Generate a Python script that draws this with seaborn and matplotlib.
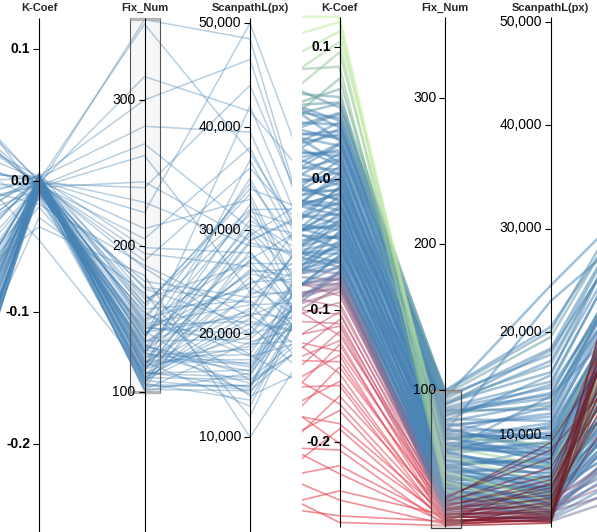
import numpy as np
import pandas as pd
import matplotlib
matplotlib.use("Agg")
import matplotlib.pyplot as plt
import seaborn as sns
from matplotlib.colors import LinearSegmentedColormap
from matplotlib.patches import Rectangle

sns.set_theme(style="white")
plt.rcParams['font.family'] = ['Liberation Sans', 'DejaVu Sans']

# ---------------- data: left view (brush Fix_Num 100-356) ----------------
L_prev = [5, 8, 12, 3, 18, 22, 9, 28, 15, 2,
          31, 6, 20, 11, 25, 4, 34, 14, 7, 26,
          17, 1, 30, 10, 38, 13, 45, 52, 58, 62,
          67, 71, 76, 80, 84, 88, 93, 56, 65, 74,
          48, 40, 82, 60, 35, 70, 24, 50, 86, 16,
          44, 78, 29, 21, 8, 33, 54, 68, 90, 41,
          3, 19, 57, 73, 27, 12, 47, 63, 36, 85,
          6, 14, 23, 9, 2, 17, 27, 11, 4, 19,
          32, 7, 13, 1, 24, 15, 10, 36, 5, 21,
          61, 77, 69, 53, 43]
L_kcoef = [0.002, -0.004, 0.000, -0.006, 0.004, -0.002, -0.008, 0.001, -0.003, 0.003,
           -0.001, -0.010, 0.005, -0.005, 0.000, -0.007, 0.002, -0.012, 0.001, -0.004,
           0.006, -0.002, -0.009, 0.003, -0.001, 0.000, -0.003, 0.002, -0.006, 0.004,
           -0.002, 0.001, -0.008, 0.003, -0.004, 0.000, -0.011, 0.005, -0.001, -0.015,
           0.002, -0.020, -0.003, 0.001, -0.005, 0.003, -0.002, 0.000, -0.004, -0.028,
           -0.035, -0.045, -0.007, 0.001, -0.003, 0.004, -0.006, 0.002, -0.001, -0.013,
           0.000, -0.005, 0.002, -0.002, 0.001, -0.009, 0.003, -0.004, 0.000, -0.006,
           -0.003, 0.001, -0.006, 0.002, -0.001, -0.004, 0.000, -0.008, 0.003, -0.002,
           -0.005, 0.001, -0.010, 0.000, -0.003, 0.002, -0.006, -0.001, 0.004, -0.007,
           -0.002, 0.001, -0.018, 0.000, -0.004]
L_fixnum = [112, 125, 140, 105, 118, 150, 132, 108, 160, 102,
            128, 145, 115, 172, 122, 137, 110, 155, 119, 103,
            166, 130, 142, 107, 185, 126, 113, 148, 135, 117,
            195, 104, 158, 124, 139, 110, 176, 121, 152, 131,
            109, 144, 205, 230, 262, 300, 316, 352, 355, 168,
            180, 114, 127, 101, 136, 116, 147, 106, 164, 133,
            212, 244, 282, 190, 120, 154, 111, 141, 223, 129,
            121, 134, 108, 146, 115, 127, 102, 139, 157, 113,
            123, 171, 106, 149, 118, 199, 135, 110, 128, 143,
            240, 161, 187, 117, 270]
L_scanpath = [22000, 18500, 27000, 15000, 31000, 24500, 16000, 20500, 33500, 14500,
              26000, 19000, 29000, 23000, 17500, 35000, 21500, 15500, 25000, 28000,
              18000, 30500, 14000, 24000, 20000, 32500, 16500, 27500, 19500, 22500,
              26500, 15000, 34000, 18000, 29500, 21000, 23500, 13000, 31500, 17000,
              25500, 20000, 38000, 28500, 24000, 46500, 41500, 37500, 48500, 12000,
              10000, 14800, 15200, 16200, 42000, 19800, 22800, 30000, 26800, 14200,
              33000, 29000, 39500, 36000, 23700, 17800, 27200, 21800, 50000, 16800,
              17200, 25800, 14600, 21200, 28800, 16400, 19200, 31800, 23200, 15800,
              26200, 20800, 13600, 34500, 18800, 27800, 22200, 15600, 29800, 24800,
              44000, 32000, 21700, 36800, 30200]
L_next = [40, 55, 30, 62, 48, 35, 70, 58, 25, 45,
          52, 38, 66, 20, 60, 33, 72, 42, 50, 28,
          64, 56, 36, 75, 44, 18, 61, 39, 54, 68,
          31, 47, 59, 23, 71, 37, 49, 64, 42, 57,
          26, 63, 35, 53, 46, 30, 58, 41, 27, 66,
          50, 73, 43, 55, 34, 62, 45, 38, 52, 60,
          24, 67, 33, 48, 57, 40, 65, 29, 44, 53,
          59, 46, 68, 37, 51, 74, 43, 56, 32, 65,
          48, 22, 61, 40, 54, 36, 70, 47, 28, 58,
          39, 63, 51, 34, 45]

# ---------------- data: right view (brush Fix_Num 0-100) ----------------
G_kcoef = [0.123, 0.119, 0.112, 0.104, 0.096, 0.085, 0.076, 0.068]
G_fixnum = [44, 37, 55, 31, 61, 41, 68, 35]
G_scanpath = [3600, 2900, 5400, 2300, 7000, 4300, 9100, 3100]
G_prev = [100, 93, 86, 81, 76, 89, 71, 79]
G_next = [58, 52, 47, 63, 49, 44, 57, 41]

B_kcoef = [0.062, 0.057, 0.054, 0.049, 0.046, 0.043, 0.039, 0.036, 0.034, 0.030,
           0.027, 0.025, 0.022, 0.019, 0.017, 0.015, 0.012, 0.009, 0.007, 0.005,
           0.003, 0.001, -0.001, -0.003, -0.005, -0.007, -0.009, -0.011, -0.013, -0.016,
           -0.018, -0.020, -0.021, -0.024, -0.026, -0.027, -0.029, -0.032, -0.034, -0.035,
           -0.037, -0.039, -0.041, -0.044, -0.045, -0.047, -0.049, -0.051, -0.053, -0.055,
           -0.057, -0.059, -0.061, -0.063, -0.064, -0.066, -0.068, -0.070, -0.072, -0.073,
           -0.075, -0.077, -0.079, -0.080, -0.082, -0.084, -0.086, 0.041, -0.008, -0.043,
           0.058, 0.050, 0.044, 0.038, 0.032, 0.026, 0.020, 0.014, 0.010, 0.004,
           -0.002, -0.006, -0.012, -0.017, -0.023, -0.028, -0.031, -0.036, -0.040, -0.046,
           -0.050, -0.054, -0.058, -0.062, -0.067, -0.071, -0.076, -0.081, 0.029, -0.019]
B_fixnum = [97, 92, 99, 88, 94, 83, 90, 86, 79, 85,
            76, 82, 72, 78, 69, 75, 66, 73, 63, 70,
            60, 68, 57, 64, 61, 55, 66, 52, 59, 49,
            56, 47, 62, 44, 51, 46, 42, 54, 39, 48,
            37, 45, 41, 35, 43, 33, 38, 31, 40, 29,
            34, 27, 36, 25, 30, 28, 23, 32, 21, 26,
            24, 19, 27, 22, 18, 25, 20, 95, 71, 58,
            84, 96, 77, 91, 68, 87, 58, 80, 49, 74,
            86, 45, 70, 38, 63, 57, 33, 67, 52, 28,
            47, 60, 24, 41, 17, 36, 15, 30, 100, 90]
B_scanpath = [19500, 16800, 20100, 15200, 18400, 14100, 17200, 12500, 15800, 13600,
              11800, 14900, 10600, 13200, 9800, 12100, 11200, 8700, 10300, 12800,
              9200, 7900, 11000, 8400, 9900, 7200, 10800, 6800, 8900, 7600,
              9400, 6300, 8100, 5900, 7400, 8800, 5600, 6900, 5200, 7800,
              4900, 6400, 5700, 4600, 7100, 4300, 6000, 3900, 5400, 4100,
              5000, 3600, 4700, 3300, 4400, 3800, 3100, 5100, 2800, 3500,
              4200, 2500, 3200, 2900, 2300, 3700, 2600, 24500, 23000, 13800,
              12900, 17800, 9600, 16100, 7300, 14600, 5900, 11400, 4500, 8300,
              13900, 3900, 9700, 3400, 7700, 6600, 2700, 10100, 5300, 2400,
              4800, 8200, 2100, 4300, 1900, 3700, 1700, 2900, 20500, 18200]
B_prev = [86, 78, 91, 74, 83, 69, 88, 76, 72, 81,
          65, 79, 70, 62, 75, 67, 84, 58, 71, 64,
          77, 55, 68, 61, 73, 52, 66, 59, 48, 70,
          56, 63, 50, 67, 45, 60, 53, 42, 64, 57,
          49, 61, 44, 55, 58, 40, 52, 47, 62, 43,
          54, 38, 50, 46, 57, 41, 48, 36, 52, 44,
          39, 50, 42, 47, 35, 45, 40, 80, 63, 51,
          82, 75, 87, 68, 78, 63, 73, 58, 80, 54,
          69, 49, 60, 72, 51, 66, 46, 57, 39, 62,
          44, 53, 37, 48, 56, 34, 46, 41, 90, 65]
B_next = [72, 70, 74, 66, 71, 61, 69, 58, 72, 55,
          63, 67, 52, 60, 49, 64, 57, 45, 54, 62,
          47, 42, 59, 50, 56, 39, 53, 44, 51, 36,
          48, 33, 46, 41, 30, 50, 37, 43, 28, 45,
          34, 40, 26, 38, 31, 24, 42, 29, 35, 21,
          33, 27, 19, 36, 25, 30, 17, 28, 22, 15,
          32, 20, 26, 12, 23, 18, 9, 68, 62, 47,
          64, 71, 53, 67, 45, 58, 40, 60, 35, 50,
          62, 29, 48, 25, 43, 38, 20, 52, 31, 16,
          27, 46, 13, 23, 11, 19, 8, 14, 70, 66]

R_kcoef = [-0.089, -0.094, -0.097, -0.101, -0.103, -0.107, -0.110, -0.112, -0.116, -0.119,
           -0.123, -0.126, -0.131, -0.134, -0.139, -0.143, -0.148, -0.154, -0.157, -0.165,
           -0.171, -0.176, -0.186, -0.190, -0.201, -0.206, -0.218, -0.224, -0.237, -0.244,
           -0.256, -0.261]
R_fixnum = [27, 22, 25, 18, 24, 15, 21, 13, 19, 26,
            12, 17, 23, 10, 16, 20, 11, 14, 9, 18,
            12, 8, 15, 10, 13, 7, 11, 9, 14, 8,
            10, 7]
R_scanpath = [7800, 4200, 9300, 3100, 6100, 2400, 5200, 1900, 3800, 8600,
              2700, 4600, 6900, 2100, 3400, 5700, 1700, 2900, 2200, 4900,
              3600, 1800, 2600, 5400, 2000, 3300, 1600, 2500, 4000, 1900,
              2300, 1500]
R_prev = [52, 38, 47, 30, 44, 25, 41, 35, 20, 50,
          28, 15, 39, 22, 33, 10, 45, 18, 27, 6,
          36, 12, 24, 3, 31, 16, 8, 21, 2, 14,
          5, 11]
R_next = [60, 72, 48, 78, 55, 66, 42, 74, 63, 38,
          70, 51, 45, 76, 58, 40, 68, 53, 80, 47,
          62, 71, 36, 57, 65, 44, 73, 50, 39, 67,
          54, 61]

K_TICKS = [0.1, 0.0, -0.1, -0.2]
FIX_TICKS = [100, 200, 300]
SCAN_TICKS = [10000, 20000, 30000, 40000, 50000]

DIMS = ["prev", "K-Coef", "Fix_Num", "ScanpathL(px)", "next"]


def lin(v0, y0, v1, y1):
    return lambda v: y0 + (np.asarray(v, dtype=float) - v0) * (y1 - y0) / (v1 - v0)


LEFT = dict(
    xs={"prev": -66, "K-Coef": 39, "Fix_Num": 144.5, "ScanpathL(px)": 250, "next": 355.5},
    sc={"prev": lin(0, 532, 100, 18), "K-Coef": lin(0.0, 180.7, 0.1, 49.0),
        "Fix_Num": lin(100, 392.3, 300, 100.0), "ScanpathL(px)": lin(10000, 437.3, 50000, 23.3),
        "next": lin(0, 532, 100, 18)},
    top={"K-Coef": 18, "Fix_Num": 18, "ScanpathL(px)": 18}, bottom=532,
)
RIGHT = dict(
    xs={"prev": 234.5, "K-Coef": 339.5, "Fix_Num": 445.3, "ScanpathL(px)": 550.8, "next": 656},
    sc={"prev": lin(0, 527, 100, 17), "K-Coef": lin(0.0, 178.7, 0.1, 47.0),
        "Fix_Num": lin(100, 390.0, 300, 98.3), "ScanpathL(px)": lin(10000, 435.3, 50000, 21.7),
        "next": lin(0, 527, 100, 17)},
    top={"K-Coef": 16.5, "Fix_Num": 17, "ScanpathL(px)": 17}, bottom=527,
)


def frame(layout, prev, k, fix, scan, nxt, offset=0):
    rows = []
    for i in range(len(k)):
        vals = [prev[i], k[i], fix[i], scan[i], nxt[i]]
        for d, v in zip(DIMS, vals):
            rows.append(dict(id=offset + i, dim=d, x=layout["xs"][d],
                             y=float(layout["sc"][d](v)), kcoef=k[i]))
    return pd.DataFrame(rows)


dfL = frame(LEFT, L_prev, L_kcoef, L_fixnum, L_scanpath, L_next)
dfR_top = pd.concat([
    frame(RIGHT, B_prev, B_kcoef, B_fixnum, B_scanpath, B_next, 0),
    frame(RIGHT, G_prev, G_kcoef, G_fixnum, G_scanpath, G_next, 200),
])
dfR_red = frame(RIGHT, R_prev, R_kcoef, R_fixnum, R_scanpath, R_next, 300)

cmap = LinearSegmentedColormap.from_list("kc", [
    (0.00, "#e8303c"), (0.34, "#e64b5b"), (0.45, "#b0607e"), (0.52, "#4682b4"),
    (0.80, "#4682b4"), (0.87, "#72ab95"), (1.00, "#c8ef9e")])
HNORM = (-0.265, 0.125)

fig = plt.figure(figsize=(5.97, 5.32), dpi=100)
axL = fig.add_axes([0, 0, 292 / 597, 1])
axR = fig.add_axes([302 / 597, 0, 295 / 597, 1])

sns.lineplot(data=dfL, x="x", y="y", units="id", estimator=None, sort=False,
             color="#4682b4", alpha=0.38, lw=1.1, ax=axL, legend=False)

sns.lineplot(data=dfR_red, x="x", y="y", units="id", estimator=None, sort=False,
             hue="kcoef", palette=cmap, hue_norm=HNORM, alpha=0.55, lw=1.2,
             ax=axR, legend=False)
sns.lineplot(data=dfR_top, x="x", y="y", units="id", estimator=None, sort=False,
             hue="kcoef", palette=cmap, hue_norm=HNORM, alpha=0.5, lw=1.8,
             ax=axR, legend=False)
red_tail = dfR_red[dfR_red["dim"].isin(["Fix_Num", "ScanpathL(px)", "next"])]
sns.lineplot(data=red_tail, x="x", y="y", units="id", estimator=None, sort=False,
             color="#6e1c2a", alpha=0.42, lw=1.1, ax=axR, legend=False)


def draw_axes(ax, layout):
    xs, sc = layout["xs"], layout["sc"]
    ticks = {"K-Coef": (K_TICKS, lambda v: f"{v:.1f}", "bold"),
             "Fix_Num": (FIX_TICKS, lambda v: f"{v:d}", "normal"),
             "ScanpathL(px)": (SCAN_TICKS, lambda v: f"{v:,d}", "normal")}
    for d, (tv, fmt, weight) in ticks.items():
        x = xs[d]
        ax.vlines(x, layout["top"][d], layout["bottom"], color="black", lw=0.8, zorder=6)
        ax.text(x, 8, d, ha="center", va="center", fontsize=8, fontweight="bold", zorder=7)
        for v in tv:
            y = float(sc[d](v))
            ax.hlines(y, x - 6, x, color="black", lw=0.8, zorder=6)
            ax.text(x - 9, y, fmt(v), ha="right", va="center", fontsize=10,
                    fontweight=weight, color="black", zorder=7)


draw_axes(axL, LEFT)
draw_axes(axR, RIGHT)

# brushes
axL.add_patch(Rectangle((130, 17.5), 29.5, 375, facecolor=(0, 0, 0, 0.03),
                        edgecolor="#555555", lw=0.8, zorder=5))
axL.hlines([18.5, 392.3], 130, 159.5, color="#b5b5b5", lw=2.2, zorder=5)
axR.add_patch(Rectangle((431, 389.5), 30, 138, facecolor=(0.78, 0.78, 0.78, 0.3),
                        edgecolor="#444444", lw=0.9, zorder=5))
axR.hlines([390.5], 431, 461, color="#9a9a9a", lw=1.8, zorder=5)

for ax, (x0, x1) in ((axL, (0, 292)), (axR, (302, 597))):
    ax.set_xlim(x0, x1)
    ax.set_ylim(532, 0)
    ax.set_axis_off()

fig.savefig("out.png", dpi=100)
